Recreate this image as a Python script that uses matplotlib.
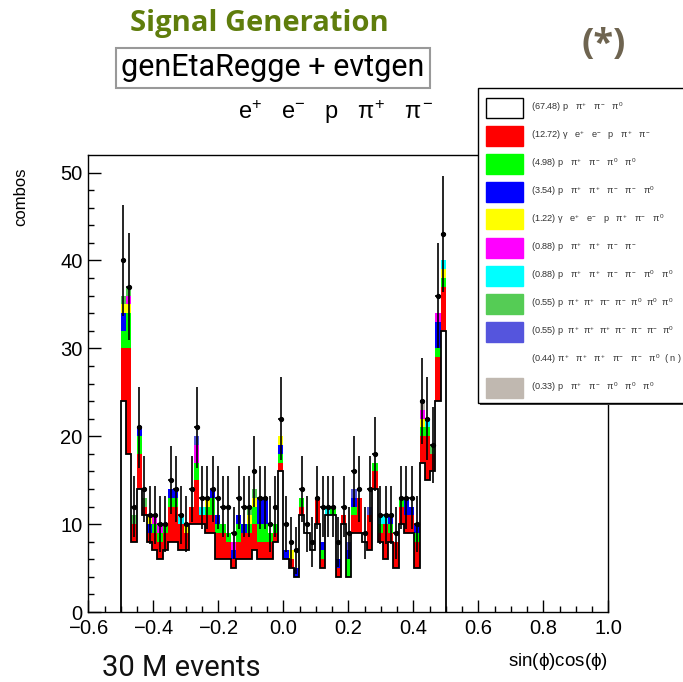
import numpy as np
import matplotlib
matplotlib.use("Agg")
import matplotlib.pyplot as plt
from matplotlib.patches import Rectangle

# ---------------- data ----------------
bin_low, bin_high, n_bins = -0.5, 0.5, 62

data = [40, 37, 12, 21, 14, 11, 11, 10, 10, 15,
        14, 11, 10, 14, 21, 13, 13, 14, 13, 12,
        12, 9, 13, 12, 12, 16, 13, 13, 10, 12,
        22, 10, 8, 7, 14, 10, 8, 13, 12, 12,
        12, 8, 12, 9, 16, 14, 9, 14, 18, 11,
        11, 11, 9, 13, 13, 13, 10, 24, 22, 19,
        36, 43]

white = [24, 18, 8, 14, 11, 8, 7, 6, 7, 8,
         8, 7, 7, 10, 10, 10, 9, 9, 6, 6,
         6, 5, 6, 6, 6, 7, 6, 6, 6, 8,
         16, 6, 5, 4, 11, 9, 7, 10, 5, 11,
         11, 4, 10, 4, 9, 9, 8, 7, 14, 8,
         6, 8, 5, 10, 9, 9, 5, 17, 15, 16,
         24, 32]
red = [6, 12, 2, 4, 1, 1, 2, 2, 2, 4,
       4, 3, 2, 2, 5, 1, 2, 2, 3, 3,
       2, 1, 2, 3, 3, 3, 2, 2, 2, 1,
       1, 0, 1, 0, 1, 0, 0, 3, 1, 0,
       0, 1, 1, 0, 2, 4, 0, 4, 2, 1,
       4, 1, 3, 2, 2, 2, 3, 3, 5, 2,
       5, 5]
green = [2, 4, 0, 2, 0, 0, 1, 1, 1, 1,
         1, 0, 0, 0, 2, 0, 1, 2, 1, 1,
         1, 0, 2, 0, 1, 2, 2, 2, 1, 1,
         1, 0, 0, 0, 1, 0, 0, 0, 1, 0,
         1, 0, 0, 2, 1, 0, 0, 0, 1, 1,
         0, 1, 0, 1, 0, 0, 1, 1, 1, 0,
         1, 1]
blue = [2, 0, 0, 1, 0, 1, 0, 0, 0, 1,
        1, 0, 0, 0, 0, 0, 0, 1, 1, 0,
        0, 1, 1, 1, 0, 0, 3, 3, 0, 0,
        1, 1, 0, 1, 0, 0, 0, 0, 1, 0,
        0, 1, 0, 1, 1, 0, 0, 0, 0, 0,
        0, 1, 0, 0, 2, 1, 1, 0, 0, 0,
        3, 0]
yellow = [1, 1, 0, 0, 0, 1, 0, 0, 0, 0,
          0, 0, 1, 0, 0, 0, 1, 0, 0, 0,
          0, 0, 0, 0, 1, 1, 0, 0, 0, 0,
          1, 0, 1, 0, 0, 0, 0, 0, 0, 0,
          0, 0, 0, 0, 0, 0, 0, 0, 0, 0,
          0, 0, 0, 0, 0, 0, 0, 1, 0, 0,
          0, 1]
magenta = [0, 1, 0, 0, 0, 0, 1, 1, 0, 0,
           0, 0, 0, 0, 2, 0, 0, 0, 0, 0,
           0, 1, 0, 0, 0, 0, 0, 0, 0, 0,
           0, 0, 0, 0, 0, 0, 0, 0, 0, 0,
           0, 0, 0, 0, 0, 0, 0, 0, 0, 0,
           0, 0, 0, 0, 0, 0, 0, 1, 0, 0,
           1, 0]
cyan = [0, 0, 0, 0, 0, 0, 0, 0, 0, 0,
        0, 1, 0, 0, 0, 1, 0, 0, 0, 0,
        0, 0, 0, 0, 0, 0, 0, 0, 0, 0,
        0, 0, 0, 0, 0, 0, 0, 0, 0, 1,
        0, 0, 0, 0, 0, 0, 0, 0, 0, 1,
        1, 0, 0, 0, 0, 0, 0, 0, 1, 0,
        0, 1]
midgreen = [1, 1, 1, 0, 1, 0, 0, 0, 0, 0,
            0, 0, 0, 0, 0, 0, 0, 0, 0, 0,
            0, 0, 0, 0, 1, 1, 0, 0, 0, 0,
            0, 0, 0, 0, 0, 0, 0, 0, 0, 0,
            0, 0, 0, 0, 0, 0, 0, 0, 0, 0,
            0, 0, 0, 0, 0, 0, 0, 0, 0, 1,
            0, 0]
slate = [0, 0, 0, 0, 0, 0, 0, 0, 0, 0,
         0, 0, 0, 0, 1, 0, 0, 0, 0, 0,
         0, 0, 0, 0, 0, 0, 0, 0, 0, 0,
         0, 0, 0, 0, 0, 0, 0, 0, 0, 0,
         0, 0, 0, 1, 1, 0, 0, 1, 0, 0,
         0, 0, 0, 0, 0, 0, 0, 0, 0, 0,
         0, 0]
tan = [0, 0, 0, 0, 0, 0, 0, 0, 0, 0,
       0, 0, 0, 0, 0, 0, 0, 0, 0, 0,
       0, 0, 0, 0, 0, 0, 0, 0, 0, 0,
       0, 0, 0, 0, 0, 0, 0, 0, 0, 0,
       0, 0, 0, 0, 0, 0, 0, 0, 0, 0,
       0, 0, 0, 0, 0, 0, 0, 1, 0, 0,
       0, 0]

legend_labels = [
    r"(67.48) p   $\pi^{+}$   $\pi^{-}$   $\pi^{0}$",
    r"(12.72) $\gamma$   e$^{+}$   e$^{-}$   p   $\pi^{+}$   $\pi^{-}$",
    r"(4.98) p   $\pi^{+}$   $\pi^{-}$   $\pi^{0}$   $\pi^{0}$",
    r"(3.54) p   $\pi^{+}$   $\pi^{+}$   $\pi^{-}$   $\pi^{-}$   $\pi^{0}$",
    r"(1.22) $\gamma$   e$^{+}$   e$^{-}$   p   $\pi^{+}$   $\pi^{-}$   $\pi^{0}$",
    r"(0.88) p   $\pi^{+}$   $\pi^{+}$   $\pi^{-}$   $\pi^{-}$",
    r"(0.88) p   $\pi^{+}$   $\pi^{+}$   $\pi^{-}$   $\pi^{-}$   $\pi^{0}$   $\pi^{0}$",
    r"(0.55) p  $\pi^{+}$  $\pi^{+}$  $\pi^{-}$  $\pi^{-}$  $\pi^{0}$  $\pi^{0}$  $\pi^{0}$",
    r"(0.55) p  $\pi^{+}$  $\pi^{+}$  $\pi^{+}$  $\pi^{-}$  $\pi^{-}$  $\pi^{-}$  $\pi^{0}$",
    r"(0.44) $\pi^{+}$   $\pi^{+}$   $\pi^{+}$   $\pi^{-}$   $\pi^{-}$   $\pi^{0}$  ( n )",
    r"(0.33) p   $\pi^{+}$   $\pi^{-}$   $\pi^{0}$   $\pi^{0}$   $\pi^{0}$",
]
legend_colors = ["white", "#ff0000", "#00ff00", "#0000ff", "#ffff00", "#ff00ff",
                 "#00ffff", "#55cc55", "#5555dd", None, "#c0b8b0"]

# ---------------- figure ----------------
W, H = 683, 682
fig = plt.figure(figsize=(W / 100, H / 100), dpi=100)
plt.rcParams['font.family'] = ['Liberation Sans', 'DejaVu Sans']
plt.rcParams['mathtext.fontset'] = 'custom'
plt.rcParams['mathtext.rm'] = 'Liberation Sans'
plt.rcParams['mathtext.it'] = 'Liberation Sans'


def fx(x):
    return x / W


def fy(y):
    return 1 - y / H


ax_l, ax_r, ax_t, ax_b = 88.3, 608.3, 155, 612
ax = fig.add_axes([fx(ax_l), fy(ax_b), (ax_r - ax_l) / W, (ax_b - ax_t) / H])

edges = np.linspace(bin_low, bin_high, n_bins + 1)
centers = 0.5 * (edges[:-1] + edges[1:])
bw = edges[1] - edges[0]

components = [np.array(white), np.array(red), np.array(green), np.array(blue),
              np.array(yellow), np.array(magenta), np.array(cyan),
              np.array(midgreen), np.array(slate), np.array(tan)]
comp_colors = ["white", "#ff0000", "#00ff00", "#0000ff", "#ffff00", "#ff00ff",
               "#00ffff", "#55cc55", "#5555dd", "#c0b8b0"]
cums = np.cumsum(np.vstack(components), axis=0)

for i in range(len(components) - 1, 0, -1):
    ax.stairs(cums[i], edges, fill=True, color=comp_colors[i], baseline=0, lw=0)
ax.stairs(cums[0], edges, fill=True, color="white", baseline=0, lw=0)
ax.stairs(cums[0], edges, fill=False, color="black", baseline=0, lw=1.3)

d = np.array(data)
ax.errorbar(centers, d, yerr=np.sqrt(d), xerr=bw / 2, fmt='o', ms=2.8,
            color='black', elinewidth=1.2, capsize=0, zorder=5)

ax.set_xlim(-0.6, 1.0)
ax.set_ylim(0, 52)
ax.set_xticks(np.arange(-0.6, 1.01, 0.2))
ax.set_xticklabels([r"$-$0.6", r"$-$0.4", r"$-$0.2", "0.0", "0.2", "0.4", "0.6", "0.8", "1.0"])
ax.set_xticks(np.arange(-0.6, 1.001, 0.05), minor=True)
ax.set_yticks([0, 10, 20, 30, 40, 50])
ax.set_yticks(np.arange(0, 52, 2), minor=True)
ax.tick_params(axis='both', which='major', direction='in', length=9, width=1,
               labelsize=14.5, pad=3)
ax.tick_params(axis='both', which='minor', direction='in', length=4.5, width=1)
ax.tick_params(axis='x', pad=5)
ax.tick_params(axis='y', pad=4)
for s in ax.spines.values():
    s.set_linewidth(1.0)

# ---------------- texts ----------------
fig.text(fx(259), fy(23), "Signal Generation", color="#5f7d0c", fontsize=21,
         fontweight='bold', family=['Open Sans', 'DejaVu Sans'], ha='center', va='center')
fig.text(fx(273), fy(68), "genEtaRegge + evtgen", color="black", fontsize=22,
         family=['Roboto', 'DejaVu Sans'], ha='center', va='center',
         bbox=dict(boxstyle='square,pad=0.17', fc='white', ec='#999999', lw=1.5))
fig.text(fx(604), fy(45), "(*)", color="#6e6450", fontsize=26, fontweight='bold',
         family=['Open Sans', 'DejaVu Sans'], ha='center', va='center')
fig.text(fx(336), fy(112),
         r"e$^{+}$   e$^{-}$   p   $\pi^{+}$   $\pi^{-}$", color="black", fontsize=17,
         ha='center', va='center')
fig.text(fx(21), fy(168), "combos", rotation=90, fontsize=12, ha='center', va='top')
fig.text(fx(608), fy(662), r"sin($\phi$)cos($\phi$)", fontsize=13.5, ha='right', va='center')
fig.text(fx(181), fy(668), "30 M events", fontsize=21, color='#111111',
         family=['Roboto', 'DejaVu Sans'], ha='center', va='center')

# ---------------- legend ----------------
lg_l, lg_t, lg_b, lg_r = 478, 88, 403, 690
fig.add_artist(Rectangle((fx(lg_l + 2), fy(lg_b + 2)), (lg_r - lg_l) / W, (lg_b - lg_t) / H,
                         transform=fig.transFigure, fc='#444444', ec='none', zorder=9))
fig.add_artist(Rectangle((fx(lg_l), fy(lg_b)), (lg_r - lg_l) / W, (lg_b - lg_t) / H,
                         transform=fig.transFigure, fc='white', ec='black', lw=1.0, zorder=10))
row_y0, row_dy = 107.5, 28.0
for i, (lab, col) in enumerate(zip(legend_labels, legend_colors)):
    yc = row_y0 + i * row_dy
    if col is not None:
        fig.add_artist(Rectangle((fx(486), fy(yc + 10)), 37 / W, 20 / H,
                                 transform=fig.transFigure, fc=col,
                                 ec='black' if col == 'white' else col, lw=1.0, zorder=11))
    fig.text(fx(531), fy(yc), lab, fontsize=6.6, color='#333333', ha='left', va='center',
             zorder=12)

fig.savefig("out.png", dpi=100)
